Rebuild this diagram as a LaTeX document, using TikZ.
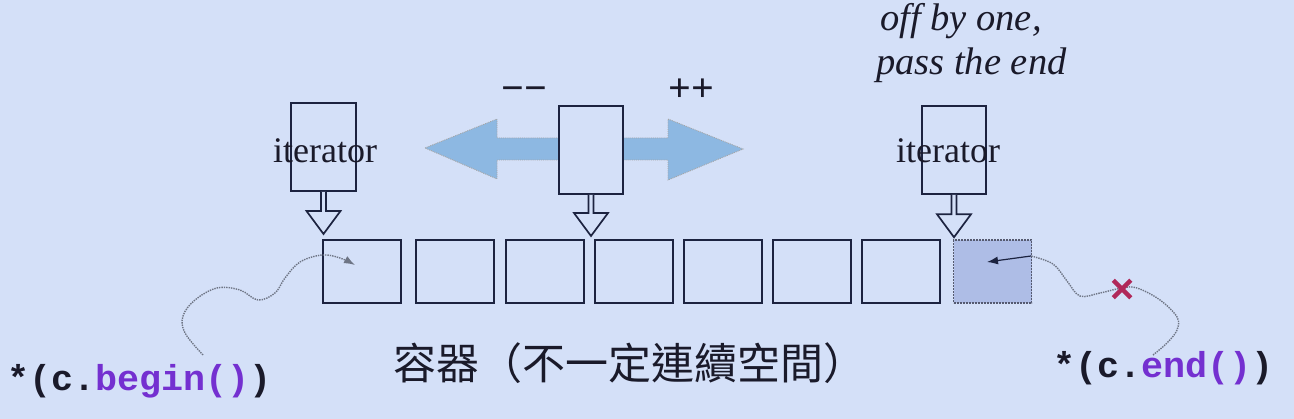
\documentclass[tikz,border=0pt]{standalone}
\usepackage{fontspec}
\setmainfont{Liberation Serif}
\newfontfamily\codefont[FakeStretch=1.02]{Liberation Mono}
\newfontfamily\cjkfont{Noto Sans CJK TC}
\usetikzlibrary{calc,arrows.meta,shapes.misc}
\definecolor{bgc}{HTML}{D4E0F8}
\definecolor{ink}{HTML}{1C2340}
\definecolor{txt}{HTML}{1A1A2A}
\definecolor{arrowfill}{HTML}{8DB8E2}
\definecolor{shade}{HTML}{AEBDE6}
\definecolor{codepurple}{HTML}{7430D0}
\definecolor{xred}{HTML}{B0285A}
\definecolor{curvec}{HTML}{6E7585}
\tikzset{
  cell/.style={draw=ink, line width=2pt, minimum width=78pt, minimum height=63pt, inner sep=0pt},
  endcell/.style={cell, draw=ink!75, fill=shade, densely dotted, line width=1.5pt},
  iterbox/.style={draw=ink, line width=2pt, fill=bgc, minimum width=65pt, minimum height=88pt, inner sep=0pt},
  hollow/.style={draw=ink, line width=1.7pt, fill=bgc, line join=miter},
  itertext/.style={text=txt, font=\fontsize{36}{40}\selectfont, inner sep=0pt, anchor=base},
  notetext/.style={text=txt, font=\itshape\fontsize{38.5}{42}\selectfont, inner sep=0pt, anchor=base west},
  opstext/.style={text=txt, font=\bfseries\fontsize{40}{44}\selectfont, inner sep=0pt, anchor=base},
  codetext/.style={text=txt, font=\codefont\bfseries\fontsize{36}{38}\selectfont, inner sep=0pt, anchor=base west},
  squiggle/.style={draw=curvec, line width=1.4pt, densely dotted, -{Latex[length=11pt,width=8pt]}}
}
\newcommand\hollowarr[2]{%
  \draw[hollow] ($(#1.south)+(-2.5,0)$) -- ($(#2)+(-2.5,-23)$) -- ($(#2)+(-17,-23)$) -- (#2)
    -- ($(#2)+(17,-23)$) -- ($(#2)+(2.5,-23)$) -- ($(#1.south)+(2.5,0)$);}
\begin{document}
\begin{tikzpicture}[x=1pt,y=-1pt]
\fill[bgc] (0,0) rectangle (1294,419);
\useasboundingbox (0,0) rectangle (1294,419);

% big double arrow
\filldraw[fill=arrowfill, draw=gray!70, densely dotted, line width=0.9pt]
  (425,148) -- (497,119) -- (497,138) -- (668,138) -- (668,119) -- (743,149)
  -- (668,180) -- (668,160) -- (497,160) -- (497,179) -- cycle;

% container cells
\node[cell] (c1) at (362,271.5) {};
\node[cell] (c2) at (455,271.5) {};
\node[cell] (c3) at (544.5,271.5) {};
\node[cell] (c4) at (634,271.5) {};
\node[cell] (c5) at (723,271.5) {};
\node[cell] (c6) at (812,271.5) {};
\node[cell] (c7) at (901,271.5) {};
\node[endcell] (c8) at (992.5,271.5) {};

% iterator boxes
\node[iterbox] (it1) at (323.5,147) {};
\node[iterbox, minimum width=64pt] (it2) at (591,150) {};
\node[iterbox, minimum width=64pt] (it3) at (954,150) {};

\coordinate (t1) at ($(it1.south |- c1.north)+(0,-5)$);
\coordinate (t2) at ($(it2.south |- c3.north)+(0,-3)$);
\coordinate (t3) at ($(it3.south |- c8.north)+(0,-2)$);
\hollowarr{it1}{t1}
\hollowarr{it2}{t2}
\hollowarr{it3}{t3}

% labels
\node[itertext] (itl1) at (325,163) {iterator};
\node[itertext] (itl3) at (948,163) {iterator};
\node[opstext] (dec) at (524,102) {−−};
\node[opstext] (inc) at (691,102) {++};
\node[notetext] (note1) at (880,31) {off by one,};
\node[notetext] (note2) at (876,75) {pass the end};
\node[text=txt, font=\cjkfont\fontsize{43}{46}\selectfont, inner sep=0pt, anchor=west] (cont) at (393,363) {容器（不一定連續空間）};
\node[codetext] (beginlbl) at (7,391) {*(c.\textcolor{codepurple}{begin()})};
\node[codetext] (endlbl) at (1053,378) {*(c.\textcolor{codepurple}{end()})};

% squiggly connectors
\coordinate (bstart) at (203,355);
\coordinate (btip) at ($(c1.center)+(-7,-6.5)$);
\draw[squiggle] plot[smooth, tension=0.6] coordinates {(bstart) (185,333) (183,316) (195,300) (217,288) (240,290) (258,300) (275,293) (285,278) (300,262) (322,255) (340,258) (btip)};

\coordinate (estart) at (1153,355);
\coordinate (ebend) at (1031,256);
\coordinate (etip) at ($(c8.center)+(-5.5,-9.5)$);
\draw[draw=curvec, line width=1.4pt, densely dotted] plot[smooth, tension=0.6] coordinates {(estart) (1167,343) (1177,330) (1177,317) (1160,300) (1137,288) (1122,288) (1100,293) (1080,296) (1067,281) (1053,264) (ebend)};
\draw[draw=ink, line width=1.2pt, -{Latex[length=11pt,width=8pt]}] (ebend) -- (etip);
\node[cross out, draw=xred, line width=4.5pt, minimum size=13pt, inner sep=0pt] (xmark) at (1122,289) {};
\end{tikzpicture}
\end{document}
